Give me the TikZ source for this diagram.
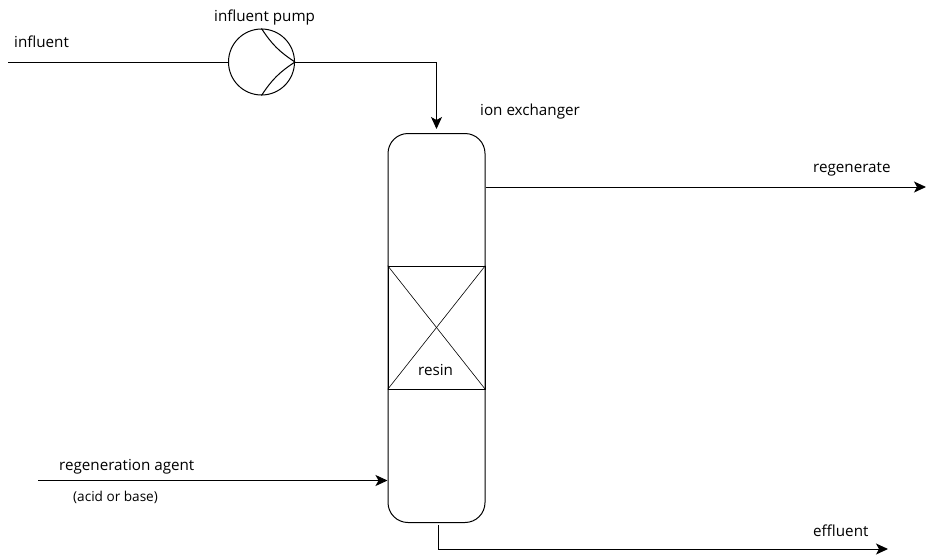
\documentclass[tikz,border=0pt]{standalone}
\usepackage{fontspec}
\setmainfont{Open Sans}
\usetikzlibrary{arrows.meta,calc}
\tikzset{
	flow/.style={draw,line width=1pt},
	arrowflow/.style={flow,-{Stealth[length=12pt,width=11pt,inset=3pt]}},
	label/.style={inner sep=0pt,anchor=base west,font=\fontsize{15.2}{18}\selectfont},
	smalllabel/.style={label,font=\fontsize{13.6}{16}\selectfont},
}
\begin{document}
\begin{tikzpicture}[x=1pt,y=-1pt]
	\useasboundingbox (0,0) rectangle (926,554);
	% vessel and resin bed
	\node[draw,line width=1pt,rounded corners=20pt,minimum width=97pt,minimum height=389pt,inner sep=0pt] (exchanger) at (436.5,328) {};
	\node[draw,line width=0.6pt,minimum width=97pt,minimum height=123pt,inner sep=0pt] (resin) at (436.5,327.5) {};
	\draw[line width=0.6pt] (resin.north west) -- (resin.south east);
	\draw[line width=0.6pt] (resin.north east) -- (resin.south west);
	% pump
	\node[draw,circle,line width=1pt,minimum size=66pt,inner sep=0pt] (pump) at (261.5,62) {};
	\draw[line width=1pt] (pump.north) to[bend right=12] (pump.east);
	\draw[line width=1pt] (pump.south) to[bend left=12] (pump.east);
	% free ends of the lines
	\coordinate (influentin) at (8,62);
	\coordinate (regenerateout) at (926,187);
	\coordinate (agentin) at (38,480.5);
	\coordinate (effluentstart) at (438.7,525);
	\coordinate (effluentout) at (888,549);
	\coordinate (feedend) at (exchanger.north |- 0,129);
	% lines
	\draw[flow] (influentin) -- (pump.west);
	\draw[arrowflow] (pump.east) -| (feedend);
	\draw[arrowflow] (exchanger.east |- regenerateout) -- (regenerateout);
	\draw[arrowflow] (agentin) -- (agentin -| exchanger.west);
	\draw[arrowflow] (effluentstart) |- (effluentout);
	% labels
	\node[label] (influentlabel) at (14,47) {influent};
	\node[label] (pumplabel) at (214,21) {influent pump};
	\node[label] (exchangerlabel) at (480,115) {ion exchanger};
	\node[label] (regeneratelabel) at (813,172) {regenerate};
	\node[label] (resinlabel) at (418,375.5) {resin};
	\node[label] (agentlabel) at (59,470) {regeneration agent};
	\node[smalllabel] (acidlabel) at (73,501) {(acid or base)};
	\node[label] (effluentlabel) at (813,536) {effluent};
\end{tikzpicture}
\end{document}
